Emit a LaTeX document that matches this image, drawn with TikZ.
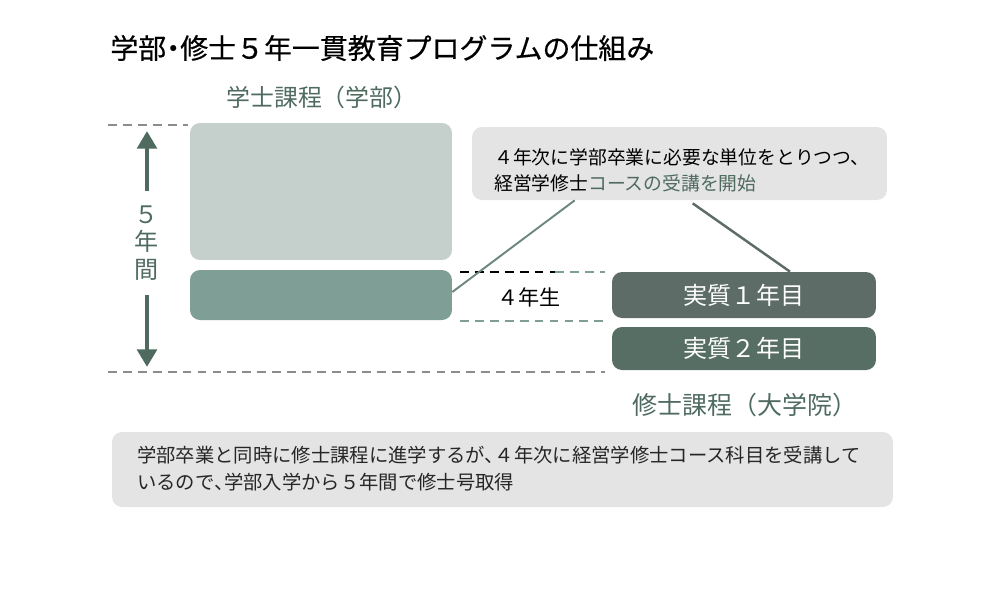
\documentclass[tikz,border=0pt]{standalone}
\usepackage{fontspec}
\setmainfont{Noto Sans CJK JP}
\newfontfamily\pfont[RawFeature=+palt]{Noto Sans CJK JP}
\newfontfamily\tfont[FakeBold=0.4]{Noto Sans CJK JP}
\newcommand{\hw}[1]{{\addfontfeature{RawFeature=+palt}#1}}
\usetikzlibrary{arrows.meta,calc}

\definecolor{ink}{HTML}{4F6B60}
\definecolor{pale}{HTML}{C5CFCB}
\definecolor{mid}{HTML}{7F9E96}
\definecolor{dark}{HTML}{5D6C67}
\definecolor{darkg}{HTML}{576E64}
\definecolor{note}{HTML}{E4E4E4}
\definecolor{rule}{HTML}{8C8C8C}

\begin{document}
\begin{tikzpicture}[x=0.02cm,y=-0.02cm,
    box/.style={rounded corners=0.2cm,inner sep=0pt},
    gdash/.style={rule,line width=0.9pt,dash pattern=on 5pt off 3.5pt},
    arr/.style={ink,line width=2.8pt,-{Triangle[width=11pt,length=10pt]}}]
  \useasboundingbox (0,0) rectangle (1000,600);
  % title
  \node[anchor=west,inner sep=0pt,font=\tfont\fontsize{15.9}{18}\selectfont] (title) at (110,48) {学部\hw{・}修士５年一貫教育プログラムの仕組み};
  \node[anchor=west,inner sep=0pt,ink,font=\fontsize{13.6}{16}\selectfont] (ugname) at (226,97) {学士課程（学部）};
  % undergraduate boxes
  \node[box,fill=pale,minimum width=5.24cm,minimum height=2.74cm] (ug) at (321,191.5) {};
  \node[box,fill=mid,minimum width=5.24cm,minimum height=1.0cm] (ug4) at (321,295) {};
  % five years
  \draw[gdash] (108,125) -- (188,125);
  \draw[gdash] (108,372) -- (605,372);
  \node[ink,align=center,font=\fontsize{13.7}{15.8}\selectfont] (yrs) at (147,243) {５\\年\\間};
  \coordinate (top) at (147,131);
  \coordinate (bot) at (147,367);
  \draw[arr] (yrs.north) ++(0,-8) coordinate (yt) (yt) -- (top);
  \draw[arr] (yrs.south) ++(0,8) coordinate (yb) (yb) -- (bot);
  % note
  \node[box,fill=note,minimum width=8.3cm,minimum height=1.46cm] (note) at (679.5,163.5) {};
  \node[anchor=west,font=\fontsize{10.7}{12}\selectfont] (n1) at (488,157) {４年次に学部卒業に必要な単位をとりつつ、};
  \node[anchor=west,font=\fontsize{10.7}{12}\selectfont] (n2) at (488,183) {経営学修士\textcolor{ink}{コースの受講を開始}};
  % fourth year
  \draw[black,line width=0.9pt,dash pattern=on 5pt off 3.5pt] (460,272) -- (555,272);
  \draw[gdash,mid] (555,272) -- (605,272);
  \draw[gdash,mid] (460,321) -- (605,321);
  \node[font=\fontsize{12}{14}\selectfont] (y4) at (529,297) {４年生};
  % master boxes
  \node[box,fill=dark,text=white,minimum width=5.28cm,minimum height=0.92cm,font=\fontsize{13.7}{15}\selectfont] (m1) at (744,295) {実質１年目};
  \node[box,fill=darkg,text=white,minimum width=5.28cm,minimum height=0.86cm,font=\fontsize{13.7}{15}\selectfont] (m2) at (744,348.5) {実質２年目};
  \node[ink,font=\fontsize{14.2}{16}\selectfont] (msname) at (745,405) {修士課程（大学院）};
  % connectors
  \draw[mid!85!black,line width=1.1pt] ($(ug4.east)+(0,-3)$) -- ($(note.south west)+(103,0)$);
  \draw[dark,line width=1.4pt] ($(note.south west)+(221,3)$) -- ($(m1.north)+(46,0)$);
  % summary
  \node[box,fill=note,minimum width=15.62cm,minimum height=1.5cm] (sum) at (502.5,469.5) {};
  \node[anchor=west,text=black!85,font=\fontsize{11}{12}\selectfont] (s1) at (131,455) {学部卒業と同時に修士課程に進学するが\hw{、}４年次に経営学修士コース科目を受講して};
  \node[anchor=west,text=black!85,font=\fontsize{11}{12}\selectfont] (s2) at (131,482) {いるので\hw{、}学部入学から５年間で修士号取得};
\end{tikzpicture}
\end{document}
